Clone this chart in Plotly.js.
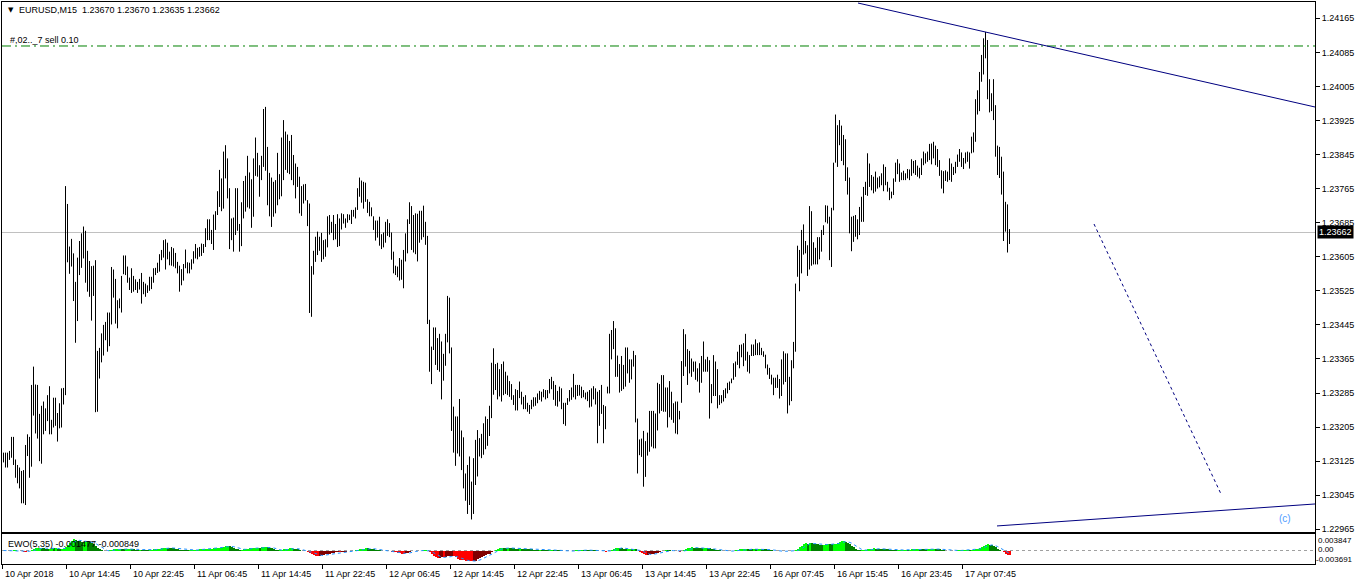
<!DOCTYPE html>
<html><head><meta charset="utf-8">
<script src="https://cdn.plot.ly/plotly-3.0.1.min.js"></script>
<style>html,body{margin:0;padding:0;background:#fff;overflow:hidden}#chart{width:1358px;height:585px}</style>
</head><body><div id="chart"></div>
<script>
const symbol = "EURUSD,M15";
const lastBar = [1.23670, 1.23670, 1.23635, 1.23662]; // open high low close
const orderLevel = 1.24100;
const orderText = "#,02.._7 sell 0.10";
const ewoName = "EWO(5,35)";
const ewoShown = ["-0.001477", "-0.000849"];
const ewoScale = ["0.003847", "0.00", "-0.003691"];

const highs = [
1.23145,1.23145,1.23145,1.23149,1.23182,1.23182,1.23129,1.23116,1.23110,1.23102,1.23104,1.23163,1.23188,1.23182,1.23304,1.23347,
1.23305,1.23304,1.23236,1.23255,1.23265,1.23249,1.23280,1.23301,1.23222,1.23274,1.23274,1.23238,1.23261,1.23296,1.23297,1.23771,
1.23729,1.23629,1.23647,1.23613,1.23546,1.23603,1.23642,1.23660,1.23676,1.23666,1.23619,1.23595,1.23583,1.23584,1.23597,1.23384,
1.23391,1.23425,1.23445,1.23452,1.23474,1.23474,1.23581,1.23575,1.23553,1.23503,1.23507,1.23560,1.23608,1.23608,1.23582,1.23556,
1.23578,1.23560,1.23552,1.23546,1.23553,1.23567,1.23546,1.23542,1.23538,1.23558,1.23558,1.23578,1.23579,1.23591,1.23611,1.23621,
1.23644,1.23646,1.23638,1.23617,1.23628,1.23625,1.23614,1.23593,1.23584,1.23576,1.23588,1.23622,1.23592,1.23591,1.23599,1.23618,
1.23635,1.23626,1.23628,1.23636,1.23635,1.23672,1.23693,1.23693,1.23668,1.23704,1.23712,1.23759,1.23809,1.23789,1.23852,1.23867,
1.23836,1.23766,1.23695,1.23697,1.23766,1.23766,1.23682,1.23733,1.23783,1.23795,1.23842,1.23803,1.23787,1.23836,1.23885,1.23849,
1.23820,1.23842,1.23952,1.23957,1.23863,1.23802,1.23791,1.23781,1.23785,1.23849,1.23799,1.23885,1.23926,1.23899,1.23892,1.23877,
1.23891,1.23844,1.23824,1.23816,1.23793,1.23771,1.23775,1.23776,1.23738,1.23730,1.23583,1.23619,1.23652,1.23664,1.23652,1.23661,
1.23644,1.23646,1.23700,1.23703,1.23687,1.23703,1.23682,1.23705,1.23695,1.23707,1.23705,1.23695,1.23705,1.23704,1.23715,1.23715,
1.23721,1.23766,1.23791,1.23784,1.23781,1.23779,1.23740,1.23734,1.23721,1.23700,1.23690,1.23690,1.23699,1.23658,1.23662,1.23687,
1.23693,1.23684,1.23662,1.23617,1.23584,1.23582,1.23602,1.23598,1.23621,1.23660,1.23693,1.23733,1.23724,1.23703,1.23707,1.23706,
1.23713,1.23713,1.23725,1.23687,1.23654,1.23457,1.23394,1.23439,1.23439,1.23414,1.23424,1.23406,1.23377,1.23424,1.23513,1.23509,
1.23392,1.23253,1.23230,1.23230,1.23271,1.23197,1.23181,1.23096,1.23116,1.23136,1.23077,1.23132,1.23175,1.23198,1.23179,1.23189,
1.23214,1.23230,1.23224,1.23255,1.23356,1.23390,1.23353,1.23356,1.23341,1.23353,1.23359,1.23335,1.23326,1.23313,1.23306,1.23280,
1.23294,1.23292,1.23312,1.23288,1.23276,1.23280,1.23262,1.23257,1.23269,1.23275,1.23275,1.23284,1.23290,1.23288,1.23294,1.23292,
1.23292,1.23318,1.23323,1.23313,1.23304,1.23290,1.23300,1.23296,1.23262,1.23262,1.23273,1.23292,1.23298,1.23330,1.23304,1.23304,
1.23304,1.23300,1.23292,1.23286,1.23288,1.23292,1.23296,1.23301,1.23296,1.23288,1.23292,1.23304,1.23257,1.23254,1.23300,1.23424,
1.23433,1.23454,1.23437,1.23373,1.23353,1.23372,1.23351,1.23392,1.23392,1.23364,1.23364,1.23384,1.23374,1.23225,1.23176,1.23178,
1.23196,1.23172,1.23192,1.23243,1.23243,1.23243,1.23237,1.23309,1.23306,1.23327,1.23327,1.23298,1.23298,1.23313,1.23288,1.23261,
1.23265,1.23265,1.23243,1.23360,1.23435,1.23423,1.23388,1.23384,1.23366,1.23359,1.23359,1.23343,1.23355,1.23372,1.23406,1.23364,
1.23370,1.23362,1.23306,1.23374,1.23359,1.23341,1.23280,1.23280,1.23292,1.23296,1.23309,1.23312,1.23319,1.23355,1.23359,1.23382,
1.23398,1.23399,1.23402,1.23424,1.23382,1.23374,1.23399,1.23399,1.23411,1.23402,1.23404,1.23391,1.23383,1.23375,1.23352,1.23344,
1.23328,1.23321,1.23321,1.23328,1.23318,1.23364,1.23383,1.23378,1.23378,1.23323,1.23362,1.23405,1.23542,1.23631,1.23621,1.23668,
1.23681,1.23642,1.23632,1.23724,1.23712,1.23639,1.23626,1.23651,1.23651,1.23668,1.23679,1.23726,1.23725,1.23699,1.23720,1.23826,
1.23939,1.23914,1.23926,1.23913,1.23891,1.23881,1.23815,1.23791,1.23699,1.23701,1.23703,1.23693,1.23722,1.23746,1.23769,1.23781,
1.23848,1.23824,1.23797,1.23793,1.23805,1.23791,1.23794,1.23801,1.23822,1.23816,1.23781,1.23767,1.23758,1.23789,1.23826,1.23834,
1.23824,1.23803,1.23807,1.23801,1.23811,1.23810,1.23834,1.23830,1.23832,1.23819,1.23814,1.23836,1.23852,1.23848,1.23852,1.23870,
1.23871,1.23875,1.23866,1.23858,1.23832,1.23808,1.23806,1.23808,1.23805,1.23836,1.23824,1.23816,1.23828,1.23845,1.23858,1.23850,
1.23837,1.23850,1.23852,1.23850,1.23887,1.23897,1.23975,1.23996,1.24039,1.24079,1.24118,1.24133,1.24114,1.24022,1.23989,1.24022,
1.23961,1.23866,1.23863,1.23840,1.23805,1.23734,1.23728,1.23670
];
const lows = [
1.23122,1.23110,1.23110,1.23128,1.23133,1.23116,1.23086,1.23073,1.23061,1.23026,1.23026,1.23022,1.23137,1.23086,1.23112,1.23232,
1.23190,1.23178,1.23125,1.23119,1.23188,1.23196,1.23219,1.23188,1.23188,1.23204,1.23208,1.23171,1.23202,1.23204,1.23258,1.23280,
1.23592,1.23565,1.23582,1.23501,1.23403,1.23454,1.23562,1.23579,1.23601,1.23544,1.23523,1.23511,1.23455,1.23513,1.23240,1.23241,
1.23319,1.23357,1.23373,1.23409,1.23382,1.23395,1.23446,1.23509,1.23448,1.23437,1.23484,1.23474,1.23564,1.23562,1.23544,1.23527,
1.23520,1.23523,1.23527,1.23520,1.23528,1.23495,1.23517,1.23511,1.23520,1.23525,1.23529,1.23544,1.23562,1.23567,1.23570,1.23597,
1.23603,1.23575,1.23599,1.23585,1.23584,1.23582,1.23578,1.23566,1.23523,1.23538,1.23549,1.23578,1.23566,1.23566,1.23575,1.23589,
1.23601,1.23599,1.23605,1.23607,1.23614,1.23628,1.23644,1.23644,1.23635,1.23621,1.23668,1.23703,1.23722,1.23712,1.23718,1.23789,
1.23742,1.23623,1.23644,1.23617,1.23656,1.23666,1.23617,1.23630,1.23695,1.23711,1.23721,1.23718,1.23673,1.23699,1.23795,1.23793,
1.23746,1.23785,1.23816,1.23807,1.23726,1.23700,1.23675,1.23699,1.23707,1.23726,1.23740,1.23747,1.23785,1.23809,1.23802,1.23799,
1.23785,1.23773,1.23742,1.23769,1.23707,1.23701,1.23730,1.23737,1.23677,1.23473,1.23464,1.23563,1.23593,1.23609,1.23619,1.23593,
1.23599,1.23605,1.23627,1.23657,1.23661,1.23644,1.23646,1.23628,1.23630,1.23669,1.23683,1.23673,1.23685,1.23691,1.23682,1.23699,
1.23695,1.23715,1.23746,1.23732,1.23718,1.23734,1.23708,1.23700,1.23700,1.23668,1.23643,1.23650,1.23631,1.23623,1.23627,1.23638,
1.23654,1.23651,1.23598,1.23566,1.23562,1.23557,1.23549,1.23551,1.23531,1.23594,1.23613,1.23682,1.23621,1.23615,1.23611,1.23594,
1.23638,1.23645,1.23651,1.23633,1.23447,1.23335,1.23306,1.23386,1.23351,1.23339,1.23335,1.23270,1.23314,1.23349,1.23404,1.23378,
1.23196,1.23145,1.23114,1.23143,1.23136,1.23104,1.23061,1.23032,1.23001,1.23022,1.22988,1.23001,1.23069,1.23089,1.23136,1.23132,
1.23140,1.23153,1.23161,1.23184,1.23226,1.23281,1.23292,1.23270,1.23277,1.23265,1.23280,1.23283,1.23280,1.23276,1.23269,1.23257,
1.23244,1.23244,1.23273,1.23258,1.23247,1.23247,1.23241,1.23236,1.23247,1.23253,1.23255,1.23261,1.23269,1.23265,1.23275,1.23270,
1.23273,1.23284,1.23294,1.23269,1.23255,1.23253,1.23265,1.23247,1.23212,1.23208,1.23257,1.23265,1.23269,1.23275,1.23270,1.23278,
1.23279,1.23273,1.23275,1.23270,1.23266,1.23251,1.23253,1.23270,1.23258,1.23167,1.23208,1.23236,1.23167,1.23200,1.23284,1.23284,
1.23364,1.23388,1.23323,1.23323,1.23286,1.23290,1.23294,1.23300,1.23331,1.23309,1.23317,1.23347,1.23216,1.23096,1.23139,1.23135,
1.23065,1.23088,1.23138,1.23147,1.23159,1.23155,1.23155,1.23197,1.23237,1.23243,1.23241,1.23241,1.23204,1.23228,1.23222,1.23215,
1.23190,1.23188,1.23223,1.23262,1.23325,1.23347,1.23304,1.23331,1.23323,1.23335,1.23316,1.23312,1.23286,1.23309,1.23335,1.23335,
1.23335,1.23225,1.23261,1.23278,1.23278,1.23249,1.23257,1.23261,1.23265,1.23273,1.23284,1.23292,1.23308,1.23316,1.23323,1.23351,
1.23343,1.23369,1.23348,1.23361,1.23335,1.23331,1.23372,1.23372,1.23374,1.23374,1.23374,1.23374,1.23370,1.23343,1.23328,1.23318,
1.23305,1.23280,1.23297,1.23297,1.23272,1.23278,1.23305,1.23311,1.23237,1.23256,1.23266,1.23343,1.23382,1.23558,1.23524,1.23566,
1.23610,1.23613,1.23560,1.23575,1.23584,1.23587,1.23587,1.23587,1.23599,1.23617,1.23656,1.23686,1.23683,1.23597,1.23581,1.23714,
1.23826,1.23816,1.23867,1.23830,1.23820,1.23783,1.23751,1.23660,1.23618,1.23640,1.23652,1.23646,1.23656,1.23687,1.23687,1.23750,
1.23748,1.23769,1.23761,1.23754,1.23758,1.23765,1.23768,1.23773,1.23759,1.23773,1.23758,1.23738,1.23742,1.23750,1.23781,1.23799,
1.23781,1.23785,1.23785,1.23785,1.23789,1.23785,1.23795,1.23801,1.23797,1.23793,1.23789,1.23797,1.23820,1.23824,1.23828,1.23832,
1.23822,1.23836,1.23820,1.23816,1.23795,1.23765,1.23754,1.23783,1.23781,1.23785,1.23781,1.23797,1.23801,1.23816,1.23828,1.23816,
1.23811,1.23824,1.23828,1.23812,1.23848,1.23850,1.23875,1.23939,1.23947,1.24016,1.24033,1.24071,1.23975,1.23944,1.23947,1.23926,
1.23840,1.23797,1.23790,1.23751,1.23642,1.23664,1.23615,1.23635
];
const priceTicks = [1.22965,1.23045,1.23125,1.23205,1.23285,1.23365,1.23445,1.23525,1.23605,1.23685,1.23765,1.23845,1.23925,1.24005,1.24085,1.24165];
const timeIdx = [0,32,64,96,128,160,192,224,256,288,320,352,384,416,448,480];
const timeLabels = ["10 Apr 2018","10 Apr 14:45","10 Apr 22:45","11 Apr 06:45","11 Apr 14:45","11 Apr 22:45","12 Apr 06:45","12 Apr 14:45","12 Apr 22:45","13 Apr 06:45","13 Apr 14:45","13 Apr 22:45","16 Apr 07:45","16 Apr 15:45","16 Apr 23:45","17 Apr 07:45"];

// ---- build marks ----
const n = highs.length;
const bx = [], by = [];
for (let i = 0; i < n; i++) { bx.push(i, i, null); by.push(lows[i], highs[i], null); }
const idx = highs.map((_, i) => i);
const med = highs.map((h, i) => (h + lows[i]) / 2);
function sma(a, p, i) { let s = 0, c = 0; for (let k = Math.max(0, i - p + 1); k <= i; k++) { s += a[k]; c++; } return s / c; }
const ewo = med.map((_, i) => sma(med, 5, i) - sma(med, 35, i));
const sig = ewo.map((_, i) => sma(ewo, 5, i));
const ewoCol = ewo.map((v, i) => {
  const up = i === 0 ? true : v >= ewo[i - 1];
  if (v >= 0) return up ? '#00FF00' : '#008000';
  return up ? '#800000' : '#FF0000';
});

const W = 1313, H = 562, T = 2, L = 2;
const px2paperY = py => (T + H - py) / H;
const F = 'Liberation Sans, Arial, sans-serif';

const traces = [
  { type: 'scatter', mode: 'lines', x: bx, y: by, xaxis: 'x', yaxis: 'y', line: { color: '#000', width: 1 }, hoverinfo: 'skip', connectgaps: false },
  { type: 'bar', x: idx, y: ewo, xaxis: 'x2', yaxis: 'y2', width: 1, marker: { color: ewoCol, line: { width: 0 } }, hoverinfo: 'skip' },
  { type: 'scatter', mode: 'lines', x: idx, y: sig, xaxis: 'x2', yaxis: 'y2', line: { color: '#1E90FF', width: 1, dash: 'dot' }, hoverinfo: 'skip' }
];

const xr = [-0.75, -0.75 + W / 2];
const scaleFont = { family: F, size: 8, color: '#000' };
const annotations = [
  { xref: 'paper', yref: 'paper', x: 4 / W, y: px2paperY(10), xanchor: 'left', yanchor: 'middle', text: '▼', showarrow: false, font: { family: 'DejaVu Sans', size: 7, color: '#000' } },
  { xref: 'paper', yref: 'paper', x: 15 / W, y: px2paperY(10), xanchor: 'left', yanchor: 'middle', text: symbol + '  ' + lastBar.map(v => v.toFixed(5)).join(' '), showarrow: false },
  { xref: 'paper', yref: 'paper', x: 6 / W, y: px2paperY(40), xanchor: 'left', yanchor: 'middle', text: orderText, showarrow: false },
  { xref: 'paper', yref: 'paper', x: 4 / W, y: px2paperY(543.5), xanchor: 'left', yanchor: 'middle', text: ewoName + ' ' + ewoShown.join(' '), showarrow: false },
  { xref: 'x', yref: 'y', x: 640.75, y: 1.229892, xanchor: 'center', yanchor: 'middle', text: '(c)', showarrow: false, font: { family: F, size: 10, color: '#4F9BFF' } },
  { xref: 'paper', yref: 'y', x: 1, xshift: 2, y: lastBar[3], xanchor: 'left', yanchor: 'middle', text: lastBar[3].toFixed(5), showarrow: false, bgcolor: '#000', borderpad: 1, font: { family: F, size: 9, color: '#fff' } },
  { xref: 'paper', yref: 'paper', x: 1, xshift: 2, y: px2paperY(540), xanchor: 'left', yanchor: 'middle', text: ewoScale[0], showarrow: false, font: scaleFont, borderpad: 0 },
  { xref: 'paper', yref: 'paper', x: 1, xshift: 2, y: px2paperY(549.5), xanchor: 'left', yanchor: 'middle', text: ewoScale[1], showarrow: false, font: scaleFont, borderpad: 0 },
  { xref: 'paper', yref: 'paper', x: 1, xshift: 0, y: px2paperY(559), xanchor: 'left', yanchor: 'middle', text: ewoScale[2], showarrow: false, font: scaleFont, borderpad: 0 }
];
timeIdx.forEach((v, k) => annotations.push({ xref: 'x2', yref: 'paper', x: v - 0.5, y: px2paperY(574), xanchor: 'left', yanchor: 'middle', text: timeLabels[k], showarrow: false }));

const shapes = [
  { type: 'line', xref: 'paper', yref: 'y', x0: 0, x1: 1, y0: orderLevel, y1: orderLevel, line: { color: '#008000', width: 1, dash: '9px,4px,2px,4px' } },
  { type: 'line', xref: 'paper', yref: 'y', x0: 0, x1: 1, y0: lastBar[3], y1: lastBar[3], line: { color: '#C0C0C0', width: 1 }, layer: 'below' },
  { type: 'line', xref: 'x', yref: 'y', x0: 427.25, y0: 1.242009, x1: 655.75, y1: 1.239567, line: { color: '#000080', width: 1 } },
  { type: 'line', xref: 'x', yref: 'y', x0: 496.75, y0: 1.229728, x1: 655.75, y1: 1.230244, line: { color: '#000080', width: 1 } },
  { type: 'line', xref: 'x', yref: 'y', x0: 545.25, y0: 1.236819, x1: 608.75, y1: 1.230479, line: { color: '#000080', width: 1, dash: 'dot' } },
  { type: 'line', xref: 'paper', yref: 'y2', x0: 0, x1: 1, y0: 0, y1: 0, line: { color: '#A0A0A0', width: 1, dash: '3px,3px' }, layer: 'below' }
];

const axLine = { showline: true, mirror: true, linecolor: '#000', linewidth: 1, showgrid: false, zeroline: false, fixedrange: true };
const layout = {
  width: 1358, height: 585,
  margin: { l: L, r: 1358 - L - W, t: T, b: 585 - T - H, pad: 0 },
  paper_bgcolor: '#fff', plot_bgcolor: '#fff',
  font: { family: F, size: 9, color: '#000' },
  showlegend: false, bargap: 0, hovermode: false,
  xaxis: Object.assign({}, axLine, { domain: [0, 1], range: xr, anchor: 'y', showticklabels: false, ticks: '' }),
  xaxis2: Object.assign({}, axLine, { domain: [0, 1], range: xr, anchor: 'y2', showticklabels: false, ticks: 'outside', ticklen: 4, tickcolor: '#000', tickvals: timeIdx.map(v => v - 0.5) }),
  yaxis: Object.assign({}, axLine, { domain: [(T + H - 532) / H, 1], range: [1.229586, 1.242033], side: 'right', anchor: 'x', tickvals: priceTicks, tickformat: '.5f', ticks: 'outside', ticklen: 4, tickcolor: '#000', tickfont: { family: F, size: 9, color: '#000' } }),
  yaxis2: Object.assign({}, axLine, { domain: [0, (T + H - 534) / H], range: [-0.00415, 0.00508], side: 'right', anchor: 'x2', showticklabels: false, ticks: '' }),
  annotations, shapes
};
Plotly.newPlot('chart', traces, layout, { displayModeBar: false, staticPlot: true });
</script></body></html>
